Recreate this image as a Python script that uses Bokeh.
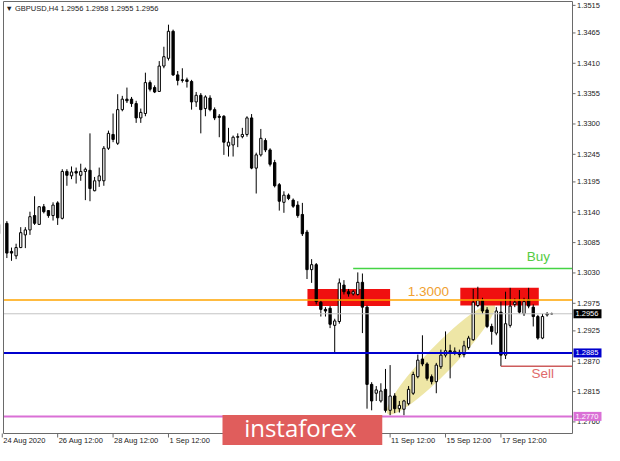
from bokeh.plotting import figure
from bokeh.models import Range1d, ColumnDataSource
from bokeh.core.properties import value
from bokeh.embed import file_html
from bokeh.resources import INLINE

opens = [1.3101, 1.3120, 1.3069, 1.3061, 1.3076, 1.3099, 1.3108, 1.3134, 1.3118, 1.3150,
         1.3143, 1.3134, 1.3157, 1.3129, 1.3214, 1.3206, 1.3214, 1.3207, 1.3214, 1.3216,
         1.3179, 1.3197, 1.3197, 1.3256, 1.3281, 1.3265, 1.3326, 1.3345, 1.3345, 1.3337,
         1.3311, 1.3319, 1.3375, 1.3366, 1.3359, 1.3405, 1.3419, 1.3468, 1.3389, 1.3380,
         1.3380, 1.3377, 1.3340, 1.3352, 1.3328, 1.3347, 1.3326, 1.3314, 1.3314, 1.3260,
         1.3262, 1.3276, 1.3277, 1.3281, 1.3311, 1.3220, 1.3244, 1.3270, 1.3253, 1.3230,
         1.3190, 1.3158, 1.3171, 1.3162, 1.3153, 1.3136, 1.3104, 1.3036, 1.3045, 1.2977,
         1.2964, 1.2966, 1.2935, 1.2942, 1.3008, 1.2996, 1.2992, 1.2991, 1.3013, 1.2968,
         1.2828, 1.2812, 1.2798, 1.2819, 1.2781, 1.2807, 1.2784, 1.2783, 1.2793, 1.2812,
         1.2842, 1.2874, 1.2865, 1.2842, 1.2833, 1.2860, 1.2881, 1.2889, 1.2886, 1.2886,
         1.2882, 1.2895, 1.2909, 1.2971, 1.2980, 1.2963, 1.2933, 1.2921, 1.2959, 1.2881,
         1.2935, 1.2973, 1.2978, 1.2956, 1.2982, 1.2968, 1.2951, 1.2912, 1.2954, 1.2956]
highs = [1.3144, 1.3124, 1.3076, 1.3083, 1.3113, 1.3113, 1.3141, 1.3169, 1.3151, 1.3155,
         1.3144, 1.3158, 1.3160, 1.3218, 1.3218, 1.3223, 1.3221, 1.3228, 1.3221, 1.3283,
         1.3204, 1.3221, 1.3260, 1.3288, 1.3319, 1.3354, 1.3351, 1.3366, 1.3349, 1.3342,
         1.3328, 1.3393, 1.3379, 1.3370, 1.3414, 1.3440, 1.3480, 1.3471, 1.3396, 1.3401,
         1.3384, 1.3380, 1.3358, 1.3356, 1.3352, 1.3352, 1.3330, 1.3318, 1.3316, 1.3293,
         1.3279, 1.3283, 1.3293, 1.3314, 1.3318, 1.3248, 1.3291, 1.3274, 1.3256, 1.3235,
         1.3193, 1.3178, 1.3174, 1.3165, 1.3160, 1.3157, 1.3108, 1.3055, 1.3048, 1.2980,
         1.2968, 1.2970, 1.2947, 1.3020, 1.3017, 1.3001, 1.2999, 1.3031, 1.3029, 1.2971,
         1.2832, 1.2825, 1.2830, 1.2856, 1.2863, 1.2812, 1.2798, 1.2800, 1.2825, 1.2851,
         1.2882, 1.2917, 1.2868, 1.2846, 1.2867, 1.2891, 1.2924, 1.2900, 1.2895, 1.2891,
         1.2907, 1.2916, 1.3001, 1.3005, 1.2985, 1.2968, 1.2938, 1.2968, 1.2978, 1.2996,
         1.3003, 1.2984, 1.2999, 1.2985, 1.3003, 1.2973, 1.2954, 1.2956, 1.2959, 1.2958]
lows = [1.3097, 1.3057, 1.3052, 1.3055, 1.3075, 1.3075, 1.3099, 1.3117, 1.3117, 1.3138,
        1.3130, 1.3125, 1.3117, 1.3127, 1.3188, 1.3200, 1.3192, 1.3197, 1.3162, 1.3160,
        1.3178, 1.3186, 1.3188, 1.3253, 1.3267, 1.3262, 1.3323, 1.3338, 1.3331, 1.3302,
        1.3302, 1.3314, 1.3359, 1.3356, 1.3358, 1.3401, 1.3415, 1.3387, 1.3370, 1.3375,
        1.3366, 1.3326, 1.3331, 1.3283, 1.3314, 1.3323, 1.3307, 1.3276, 1.3244, 1.3241,
        1.3241, 1.3258, 1.3274, 1.3277, 1.3218, 1.3174, 1.3241, 1.3249, 1.3223, 1.3185,
        1.3143, 1.3139, 1.3162, 1.3148, 1.3130, 1.3097, 1.3019, 1.3012, 1.2973, 1.2951,
        1.2951, 1.2930, 1.2886, 1.2938, 1.2991, 1.2987, 1.2989, 1.2989, 1.2921, 1.2784,
        1.2781, 1.2798, 1.2795, 1.2777, 1.2772, 1.2776, 1.2777, 1.2772, 1.2790, 1.2809,
        1.2839, 1.2861, 1.2835, 1.2828, 1.2812, 1.2856, 1.2877, 1.2839, 1.2881, 1.2877,
        1.2877, 1.2891, 1.2907, 1.2968, 1.2956, 1.2930, 1.2900, 1.2917, 1.2861, 1.2874,
        1.2931, 1.2968, 1.2956, 1.2952, 1.2966, 1.2933, 1.2909, 1.2910, 1.2951, 1.2955]
closes = [1.3118, 1.3066, 1.3066, 1.3076, 1.3103, 1.3108, 1.3132, 1.3120, 1.3150, 1.3141,
          1.3134, 1.3153, 1.3130, 1.3214, 1.3207, 1.3213, 1.3211, 1.3214, 1.3218, 1.3183,
          1.3197, 1.3206, 1.3256, 1.3283, 1.3272, 1.3326, 1.3345, 1.3342, 1.3337, 1.3311,
          1.3321, 1.3375, 1.3363, 1.3358, 1.3405, 1.3422, 1.3468, 1.3389, 1.3379, 1.3379,
          1.3377, 1.3340, 1.3352, 1.3326, 1.3349, 1.3326, 1.3311, 1.3312, 1.3267, 1.3267,
          1.3276, 1.3277, 1.3281, 1.3311, 1.3220, 1.3244, 1.3274, 1.3253, 1.3227, 1.3188,
          1.3160, 1.3171, 1.3165, 1.3151, 1.3134, 1.3101, 1.3036, 1.3045, 1.2978, 1.2964,
          1.2961, 1.2937, 1.2943, 1.3012, 1.2996, 1.2992, 1.2996, 1.3013, 1.2968, 1.2828,
          1.2798, 1.2818, 1.2816, 1.2781, 1.2807, 1.2784, 1.2790, 1.2798, 1.2819, 1.2846,
          1.2872, 1.2865, 1.2839, 1.2833, 1.2863, 1.2881, 1.2889, 1.2886, 1.2888, 1.2882,
          1.2898, 1.2912, 1.2977, 1.2980, 1.2961, 1.2933, 1.2924, 1.2961, 1.2881, 1.2938,
          1.2970, 1.2977, 1.2959, 1.2978, 1.2970, 1.2951, 1.2912, 1.2951, 1.2956, 1.2956]

y_tick_labels = ["1.3515", "1.3465", "1.3410", "1.3355", "1.3300", "1.3245", "1.3195", "1.3140",
                 "1.3085", "1.3030", "1.2975", "1.2925", "1.2870", "1.2815", "1.2760"]
x_tick_bars = [0, 12, 24, 36, 84, 96, 108]
x_tick_labels = ["24 Aug 2020", "26 Aug 12:00", "28 Aug 12:00", "1 Sep 12:00",
                 "11 Sep 12:00", "15 Sep 12:00", "17 Sep 12:00"]

title_text = "\u25bc GBPUSD,H4  1.2956 1.2958 1.2955 1.2956"
level_orange = 1.2981
level_bid = 1.2956
level_blue = 1.2885
level_violet = 1.2770
level_buy = 1.3038
buy_from_bar = 76
level_sell = 1.2861
sell_from_bar = 108
zone_left = [66.1, 99.2]
zone_right = [84.0, 116.2]
zone_top = [1.3001, 1.3003]
zone_bottom = [1.2970, 1.2971]
channel_bar = 95.0
channel_price = 1.2874
banner_from_bar, banner_to_bar = 47.7, 82.3

# ---- layout: the whole figure is the frame; chart area + scales drawn inside ----
W, H = 604, 445
X0, X1 = 0.27, 123.5         # visible bars of the chart area
Y0, Y1 = 1.2739, 1.3522      # visible prices of the chart area
LEFT, TOP = 3, 1             # chart area offset, px
CHART_W, CHART_H = 569, 432  # chart area size, px
PXB = CHART_W / (X1 - X0)    # px per bar
PXP = CHART_H / (Y1 - Y0)    # px per price unit


def dx(px):
    return px / PXB


def dy(px):
    return px / PXP


xs = X0 - dx(LEFT)
ys_top = Y1 + dy(TOP)
ys_bottom = ys_top - dy(H)
FONT = "Liberation Sans"
AXC = "#6a6a6a"

p = figure(width=W, height=H, x_range=Range1d(xs, xs + dx(W)),
           y_range=Range1d(ys_bottom, ys_top),
           output_backend="svg", toolbar_location=None,
           x_axis_location=None, y_axis_location=None, min_border=0)
p.outline_line_color = None
p.background_fill_color = "white"
p.border_fill_color = "white"
p.xgrid.visible = False
p.ygrid.visible = False

bars = list(range(len(opens)))

# background objects
p.ellipse(x=[channel_bar], y=[channel_price], width=[153], height=[27], angle=[0.80],
          width_units="screen", height_units="screen",
          fill_color="#eee6a6", line_color=None)
p.quad(left=zone_left, right=zone_right, top=zone_top, bottom=zone_bottom,
       fill_color="#f01010", line_color=None)

# candles
src = ColumnDataSource(dict(
    x=bars, high=highs, low=lows,
    top=[max(o, c) for o, c in zip(opens, closes)],
    bottom=[min(o, c) for o, c in zip(opens, closes)],
    fill=["white" if c >= o else "black" for o, c in zip(opens, closes)],
))
p.segment(x0="x", y0="high", x1="x", y1="low", source=src, line_color="black", line_width=1)
p.vbar(x="x", width=0.5, top="top", bottom="bottom", source=src,
       fill_color="fill", line_color="black", line_width=1)

# level lines
for lvl, col, lw in ((level_bid, "#c4c4c4", 1), (level_orange, "#ffa500", 1.5),
                     (level_blue, "#0000cd", 2), (level_violet, "#da70d6", 2)):
    p.segment(x0=[X0], y0=[lvl], x1=[X1], y1=[lvl], line_color=col, line_width=lw)
p.segment(x0=[buy_from_bar], y0=[level_buy], x1=[X1], y1=[level_buy], line_color="#44d444", line_width=1.5)
p.segment(x0=[sell_from_bar], y0=[level_sell], x1=[X1], y1=[level_sell], line_color="#cd5c5c", line_width=1.5)

# hide the part of the first candle left of the chart area
p.quad(left=[xs], right=[X0], top=[ys_top], bottom=[ys_bottom], fill_color="white", line_color=None)

# frame of the chart area
p.quad(left=[X0], right=[X1], top=[Y1], bottom=[Y0], fill_color=None, line_color=AXC, line_width=1)

# right price scale
y_ticks = [float(s) for s in y_tick_labels]
p.segment(x0=[X1] * len(y_ticks), y0=y_ticks, x1=[X1 + dx(3)] * len(y_ticks), y1=y_ticks,
          line_color=AXC, line_width=1)
p.text(x=[X1 + dx(4.5)] * len(y_ticks), y=y_ticks, text=y_tick_labels, text_align="left",
       text_baseline="middle", text_font=value(FONT), text_font_size="7.5px", text_color="#222222")

# bottom time scale
p.segment(x0=x_tick_bars, y0=[Y0] * len(x_tick_bars), x1=x_tick_bars,
          y1=[Y0 - dy(4)] * len(x_tick_bars), line_color=AXC, line_width=1)
p.text(x=[b + dx(1) for b in x_tick_bars], y=[Y0 - dy(2.5)] * len(x_tick_bars), text=x_tick_labels,
       text_align="left", text_baseline="top", text_font=value(FONT), text_font_size="7.5px",
       text_color="#222222")

# price tags on the right scale
tag_levels = [level_bid, level_blue, level_violet]
tag_colors = ["black", "#0000cd", "#da70d6"]
p.quad(left=[X1 + dx(1)] * 3, right=[X1 + dx(29)] * 3,
       top=[v + dy(4.5) for v in tag_levels], bottom=[v - dy(4.5) for v in tag_levels],
       fill_color=tag_colors, line_color=None)
p.text(x=[X1 + dx(3)] * 3, y=tag_levels, text=["%.4f" % v for v in tag_levels],
       text_align="left", text_baseline="middle", text_font=value(FONT),
       text_font_size="7.5px", text_color="white")

# texts on the chart
p.text(x=[X0 + dx(2)], y=[Y1 - dy(7)], text=[title_text], text_baseline="middle",
       text_font=value(FONT), text_font_size="7.5px", text_color="#222222")
p.text(x=[87.8], y=[1.2996], text=["1.3000"], text_baseline="middle", text_font=value(FONT),
       text_font_size="13.5px", text_color="#f0a030")
p.text(x=[113.6], y=[1.3059], text=["Buy"], text_baseline="middle", text_font=value(FONT),
       text_font_size="13.5px", text_color="#55cc44")
p.text(x=[114.6], y=[1.2847], text=["Sell"], text_baseline="middle", text_font=value(FONT),
       text_font_size="13.5px", text_color="#e06a6a")

# banner
p.quad(left=[banner_from_bar], right=[banner_to_bar], top=[level_violet + dy(1.5)],
       bottom=[ys_bottom], fill_color="#e05d5c", line_color=None)
p.text(x=[(banner_from_bar + banner_to_bar) / 2 - dx(2)], y=[ys_bottom + dy(18)], text=["instaforex"],
       text_align="center", text_baseline="middle", text_font=value("Open Sans"),
       text_font_size="24px", text_color="white")

open("out.html", "w").write(file_html(p, INLINE))
